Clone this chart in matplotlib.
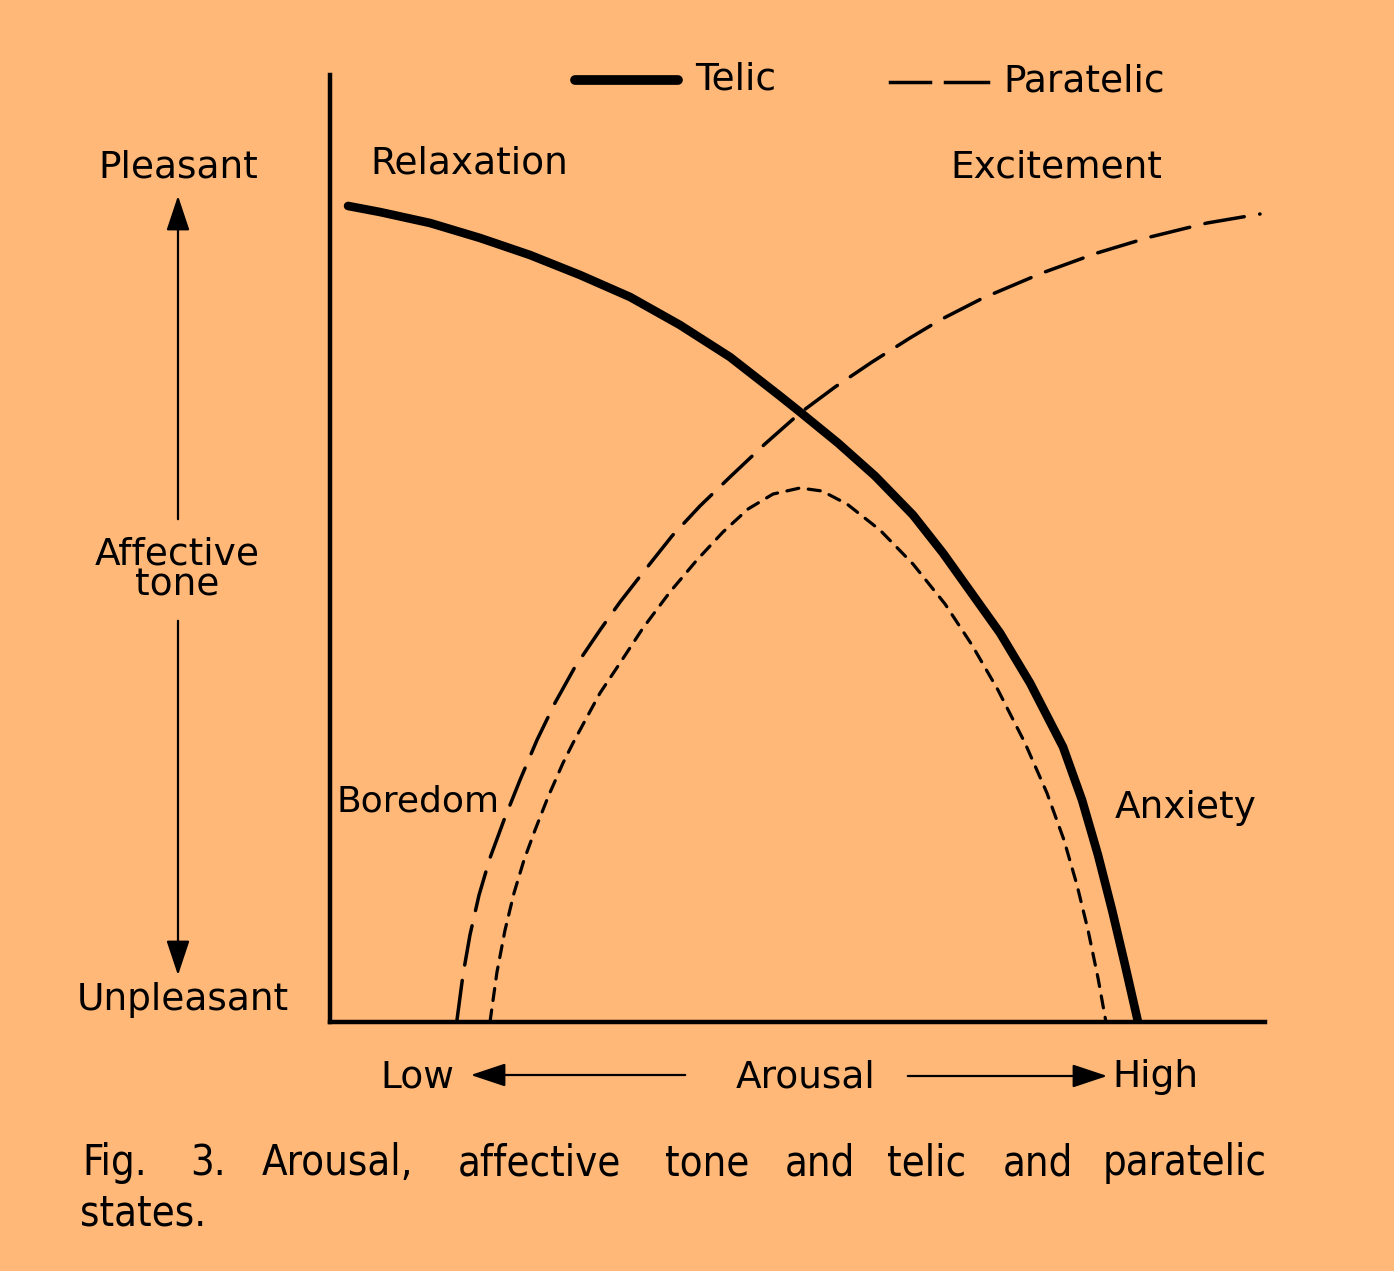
import matplotlib.pyplot as plt

# background colour of the scanned figure
bg = '#FFB878'

# curves (arousal 0-100, affective tone 0-100)
telic_x = [1.93, 5.35, 10.70, 16.04, 21.39, 26.74, 32.09, 37.43, 42.78, 48.13, 50.27,
           54.33, 58.29, 62.35, 65.56, 71.66, 74.87, 78.40, 80.43, 82.14, 83.64, 85.03,
           86.42]
telic_y = [86.17, 85.53, 84.37, 82.79, 80.99, 78.88, 76.56, 73.60, 70.22, 66.10, 64.41,
           61.14, 57.66, 53.54, 49.52, 41.08, 35.80, 29.04, 23.44, 17.63, 11.83, 6.02,
           0.0]

paratelic_x = [13.58, 14.22, 14.97, 15.94, 17.11, 18.61, 20.32, 22.14, 24.06, 26.20,
               28.88, 31.02, 33.69, 36.58, 39.57, 42.78, 46.52, 50.27, 54.01, 57.97,
               62.03, 65.24, 69.84, 76.15, 82.03, 87.70, 93.80, 99.47]
paratelic_y = [0.21, 4.96, 9.19, 13.41, 17.32, 21.33, 25.55, 29.78, 33.69, 37.49,
               41.39, 44.35, 47.73, 51.32, 54.49, 57.55, 61.04, 64.31, 67.05, 69.69,
               72.23, 74.13, 76.45, 79.09, 81.20, 82.89, 84.37, 85.32]

inner_x = [17.11, 17.86, 18.72, 19.68, 20.75, 21.93, 23.32, 24.92, 25.99, 27.49, 28.88,
           31.02, 33.48, 36.36, 39.25, 42.03, 44.71, 47.38, 50.27, 52.62, 55.29, 58.82,
           62.35, 65.78, 68.66, 71.44, 74.33, 76.68, 78.50, 79.89, 81.07, 82.14, 82.99]
inner_y = [0.0, 5.28, 9.71, 13.62, 17.11, 20.27, 23.76, 27.35, 29.46, 32.21, 34.74,
           37.91, 41.61, 45.41, 48.79, 51.74, 54.17, 55.75, 56.39, 56.07, 54.70, 51.95,
           48.36, 44.14, 39.81, 35.06, 29.46, 24.18, 19.22, 14.47, 9.71, 4.65, 0.0]

W, H = 1394, 1271
fig = plt.figure(figsize=(W / 100, H / 100), dpi=100, facecolor=bg)

# axes box placed in pixels of the original scan
left, right, top, bottom = 330, 1265, 75, 1022
ax = fig.add_axes([left / W, (H - bottom) / H, (right - left) / W, (bottom - top) / H])
ax.set_facecolor(bg)
ax.set_xlim(0, 100)
ax.set_ylim(0, 100)
ax.set_xticks([])
ax.set_yticks([])
for s in ['top', 'right']:
    ax.spines[s].set_visible(False)
for s in ['left', 'bottom']:
    ax.spines[s].set_linewidth(3.2)

ax.plot(telic_x, telic_y, color='black', lw=6.2, solid_capstyle='round',
        solid_joinstyle='round')
ax.plot(paratelic_x, paratelic_y, color='black', lw=2.5, dashes=(11.5, 4.5),
        dash_capstyle='round', dash_joinstyle='round')
ax.plot(inner_x, inner_y, color='black', lw=2.3, dashes=(3.8, 3.0),
        dash_capstyle='round', dash_joinstyle='round')

# legend drawn by hand, like the original
ax.plot([26.2, 37.2], [99.5, 99.5], color='black', lw=7, clip_on=False,
        solid_capstyle='round')
ax.plot([59.9, 64.2], [99.3, 99.3], color='black', lw=2.5, clip_on=False)
ax.plot([65.8, 70.4], [99.3, 99.3], color='black', lw=2.5, clip_on=False)


def fx(px):
    return px / W


def fy(py):
    return 1 - py / H


font = dict(family='DejaVu Sans', fontsize=27, color='black')
fig.text(fx(695), fy(80), 'Telic', ha='left', va='center', **font)
fig.text(fx(1003), fy(82), 'Paratelic', ha='left', va='center', **font)
fig.text(fx(370), fy(163), 'Relaxation', ha='left', va='center', **font)
fig.text(fx(950), fy(168), 'Excitement', ha='left', va='center', **font)
fig.text(fx(337), fy(802), 'Boredom', ha='left', va='center', fontsize=26,
         family='DejaVu Sans', color='black')
fig.text(fx(1115), fy(808), 'Anxiety', ha='left', va='center', **font)
fig.text(fx(178), fy(168), 'Pleasant', ha='center', va='center', **font)
fig.text(fx(177), fy(570), 'Affective\ntone', ha='center', va='center',
         linespacing=0.85, **font)
fig.text(fx(183), fy(1000), 'Unpleasant', ha='center', va='center', **font)
fig.text(fx(380), fy(1077), 'Low', ha='left', va='center', **font)
fig.text(fx(806), fy(1077), 'Arousal', ha='center', va='center', **font)
fig.text(fx(1112), fy(1077), 'High', ha='left', va='center', **font)

arrow = dict(arrowstyle='-|>,head_length=0.9,head_width=0.3', color='black', lw=1.6,
             mutation_scale=24)
fig.add_artist(plt.Annotation('', xy=(fx(178), fy(193)), xytext=(fx(178), fy(522)),
                              xycoords='figure fraction', arrowprops=arrow))
fig.add_artist(plt.Annotation('', xy=(fx(178), fy(978)), xytext=(fx(178), fy(618)),
                              xycoords='figure fraction', arrowprops=arrow))
fig.add_artist(plt.Annotation('', xy=(fx(468), fy(1075)), xytext=(fx(688), fy(1075)),
                              xycoords='figure fraction', arrowprops=arrow))
fig.add_artist(plt.Annotation('', xy=(fx(1110), fy(1076)), xytext=(fx(905), fy(1076)),
                              xycoords='figure fraction', arrowprops=arrow))

# caption, words spread out like the justified print
cap = dict(family='DejaVu Sans', fontsize=30, color='black', stretch='condensed')
words = ['Fig.', '3.', 'Arousal,', 'affective', 'tone', 'and', 'telic', 'and', 'paratelic']
word_x = [82, 190, 262, 458, 665, 785, 887, 1003, 1103]
for w, x in zip(words, word_x):
    fig.text(fx(x), fy(1163), w, ha='left', va='center', **cap)
fig.text(fx(80), fy(1213), 'states.', ha='left', va='center', **cap)

fig.savefig('out.png', dpi=100, facecolor=bg)
